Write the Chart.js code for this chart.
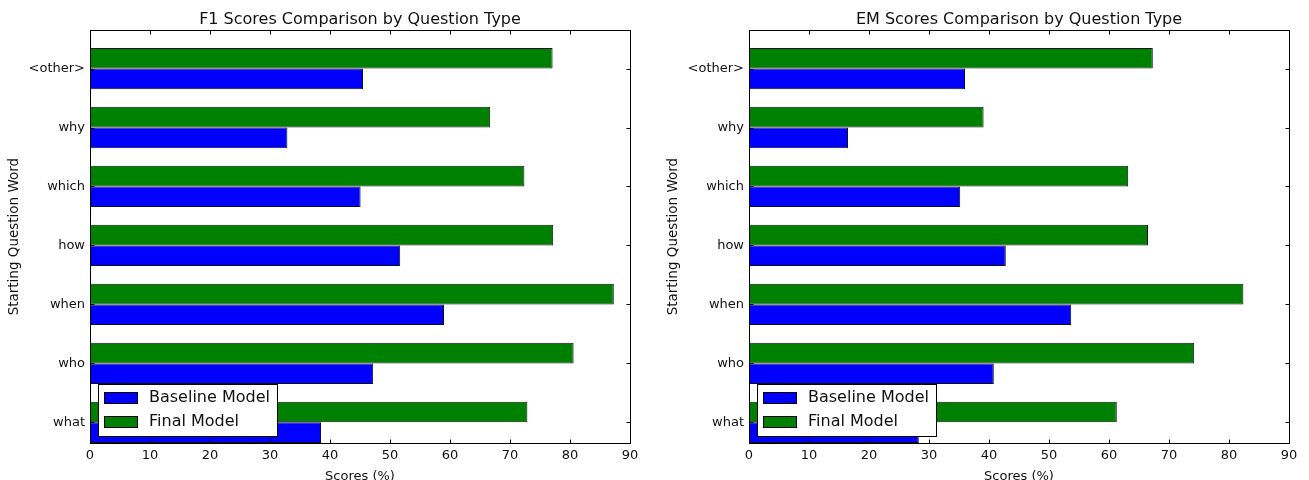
<!DOCTYPE html>
<html>
<head>
<meta charset="utf-8">
<title>F1 / EM Scores Comparison by Question Type</title>
<script src="https://cdn.jsdelivr.net/npm/chart.js@4.4.1/dist/chart.umd.min.js"></script>
<style>
  html, body { margin: 0; padding: 0; background: #fff; overflow: hidden; width: 1309px; height: 480px; }
  #wrap { position: relative; width: 1309px; height: 480px; overflow: hidden; }
  canvas { position: absolute; top: 0; }
  #f1-chart { left: 0; }
  #em-chart { left: 654px; }
</style>
</head>
<body>
<div id="wrap">
  <canvas id="f1-chart" width="654" height="484"></canvas>
  <canvas id="em-chart" width="655" height="484"></canvas>
</div>
<script>
// Question types, bottom to top
const questionTypes = ['what', 'who', 'when', 'how', 'which', 'why', '<other>'];

// F1 scores (%)
const f1Baseline = [38.5, 47.2, 59.0, 51.7, 45.1, 32.9, 45.5];
const f1Final = [72.9, 80.6, 87.3, 77.2, 72.4, 66.7, 77.1];

// EM scores (%)
const emBaseline = [28.3, 40.8, 53.7, 42.8, 35.2, 16.5, 36.0];
const emFinal = [61.3, 74.2, 82.4, 66.5, 63.2, 39.1, 67.3];

// x axis ticks
const scoreTicks = [0, 10, 20, 30, 40, 50, 60, 70, 80, 90];

Chart.defaults.font.family = '"DejaVu Sans", sans-serif';
Chart.defaults.color = '#111';

// Black box round the plot, ticks pointing inward (old matplotlib look)
const axesFrame = {
    id: 'axesFrame',
    afterDatasetsDraw(chart) {
        const { ctx, chartArea: a, scales } = chart;
        const left = Math.round(a.left) + 0.5;
        const top = Math.round(a.top) + 0.5;
        const right = Math.round(a.right) + 0.5;
        const bottom = Math.round(a.bottom) + 0.5;
        ctx.save();
        ctx.strokeStyle = '#000';
        ctx.lineWidth = 1;
        ctx.strokeRect(left, top, right - left, bottom - top);
        ctx.beginPath();
        scales.x.ticks.forEach(t => {
            const px = Math.round(scales.x.getPixelForValue(t.value)) + 0.5;
            ctx.moveTo(px, top); ctx.lineTo(px, top + 4);
            ctx.moveTo(px, bottom); ctx.lineTo(px, bottom - 4);
        });
        scales.y.ticks.forEach(t => {
            const py = Math.round(scales.y.getPixelForValue(t.value)) + 0.5;
            ctx.moveTo(left, py); ctx.lineTo(left + 4, py);
            ctx.moveTo(right, py); ctx.lineTo(right - 4, py);
        });
        ctx.stroke();
        ctx.restore();
    }
};

// Legend box inside the plot, lower left
const legendBox = {
    id: 'legendBox',
    afterDraw(chart) {
        const { ctx, chartArea } = chart;
        const items = [chart.data.datasets[1], chart.data.datasets[0]]; // Baseline first
        ctx.save();
        ctx.font = '16px "DejaVu Sans"';
        const textW = Math.max(...items.map(d => ctx.measureText(d.label).width));
        const rowH = 24;
        const h = items.length * rowH + 4;
        const left = Math.round(chartArea.left) + 8;
        const top = Math.round(chartArea.bottom) - 7 - h;
        const w = Math.round(51 + textW + 7);
        ctx.fillStyle = '#fff';
        ctx.fillRect(left, top, w, h);
        ctx.strokeStyle = '#000';
        ctx.lineWidth = 1;
        ctx.strokeRect(left + 0.5, top + 0.5, w, h);
        items.forEach((d, i) => {
            const cy = top + 13.5 + i * rowH;
            ctx.fillStyle = d.backgroundColor;
            ctx.fillRect(left + 6, Math.round(cy - 5.5), 33, 11);
            ctx.strokeRect(left + 6.5, Math.round(cy - 5.5) + 0.5, 33, 11);
            ctx.fillStyle = '#111';
            ctx.textBaseline = 'middle';
            ctx.fillText(d.label, left + 51, cy);
        });
        ctx.restore();
    }
};

function buildChart(canvasId, title, baseline, final, axisWidth, yTitlePad, rightPad) {
    const ctx = document.getElementById(canvasId).getContext('2d');
    return new Chart(ctx, {
        type: 'bar',
        data: {
            datasets: [{
                label: 'Final Model',
                data: final.map((v, i) => ({ x: v, y: i })),
                backgroundColor: '#008000'
            }, {
                label: 'Baseline Model',
                data: baseline.map((v, i) => ({ x: v, y: i })),
                backgroundColor: '#0000ff'
            }]
        },
        options: {
            indexAxis: 'y',
            responsive: false,
            animation: false,
            layout: { padding: { left: 0, right: rightPad, top: 0, bottom: 0 } },
            datasets: {
                bar: {
                    borderColor: '#111',
                    borderWidth: 1,
                    borderSkipped: false,
                    categoryPercentage: 0.7,
                    barPercentage: 1.0
                }
            },
            plugins: {
                legend: { display: false },
                tooltip: { enabled: false },
                title: {
                    display: true,
                    text: title,
                    fullSize: false,
                    color: '#111',
                    font: { size: 16, weight: 'normal' },
                    padding: { top: 10, bottom: 1 }
                }
            },
            scales: {
                x: {
                    type: 'linear',
                    min: 0,
                    max: 90,
                    grid: { display: false, drawTicks: false },
                    border: { display: false },
                    ticks: { padding: 5, font: { size: 13 }, maxRotation: 0, autoSkip: false },
                    afterBuildTicks: s => { s.ticks = scoreTicks.map(v => ({ value: v })); },
                    title: { display: true, text: 'Scores (%)', font: { size: 13 }, padding: { top: 0, bottom: 0 } },
                    afterFit: s => { s.height = 41; }
                },
                y: {
                    type: 'linear',
                    offset: false,
                    min: -0.35,
                    max: questionTypes.length - 0.35,
                    grid: { display: false, drawTicks: false, offset: false },
                    border: { display: false },
                    ticks: {
                        padding: 5,
                        font: { size: 13 },
                        autoSkip: false,
                        callback: v => questionTypes[v] ?? ''
                    },
                    afterBuildTicks: s => { s.ticks = questionTypes.map((q, i) => ({ value: i })); },
                    title: {
                        display: true,
                        text: 'Starting Question Word',
                        font: { size: 13.5 },
                        padding: { top: yTitlePad, bottom: 0 }
                    },
                    afterFit: s => { s.width = axisWidth; }
                }
            }
        },
        plugins: [axesFrame, legendBox]
    });
}

buildChart('f1-chart', 'F1 Scores Comparison by Question Type', f1Baseline, f1Final, 90, 6, 24);
buildChart('em-chart', 'EM Scores Comparison by Question Type', emBaseline, emFinal, 95, 11, 20);
</script>
</body>
</html>
